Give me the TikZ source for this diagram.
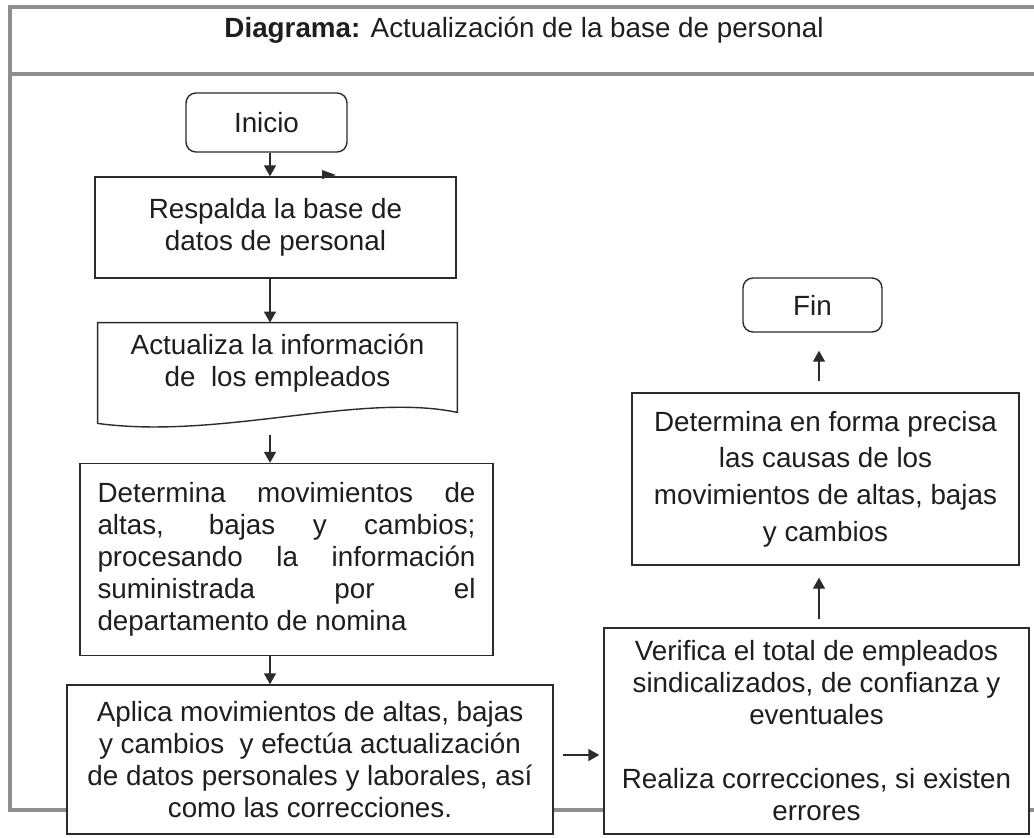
\documentclass[tikz,border=0pt]{standalone}
\usepackage{fontspec}
\setmainfont{Liberation Sans}
\usetikzlibrary{calc,arrows.meta,positioning}
\definecolor{linec}{HTML}{2B2B2B}
\definecolor{framec}{HTML}{8E8E8E}
\definecolor{txtc}{HTML}{1E1E1E}
\tikzset{
  ar/.style={-{Triangle[length=5.5pt,width=6pt]},line width=0.7pt,linec},
  box/.style={draw=linec,line width=0.7pt,fill=white,align=center,inner sep=0pt,text=txtc},
  term/.style={box,rounded corners=5pt},
  fr/.style={draw=framec,line width=1.6pt}
}

\begin{document}
\begin{tikzpicture}[x=0.5pt,y=-0.5pt,font=\fontsize{13.9}{16}\selectfont]
\useasboundingbox (0,0) rectangle (1034,837);
\clip (0,0) rectangle (1034,837);
% marco y titulo
\draw[fr] (10,7) rectangle (1050,810);
\draw[fr] (10,74) -- (1050,74);
\node[text=txtc] (tit) at (524,30) {\textbf{Diagrama:} Actualización de la base de personal};
\coordinate (axL) at (270,0);
\coordinate (axR) at (819,0);
% columna izquierda
\node[term,minimum width=80.5pt,minimum height=29.5pt] (ini) at (266.5,122.5) {Inicio};
\node[box,minimum width=180.5pt,minimum height=50.5pt] (resp) at (275.5,227.5) {Respalda la base de\\datos de personal};
\node[align=center,inner sep=0pt,text=txtc,minimum width=179.5pt,minimum height=40pt] (act) at (277.5,363) {Actualiza la información\\de\ \ los empleados};
\draw[linec,line width=0.7pt] (act.north west) -- (act.north east) -- ($(act.south east)+(0,9)$)
  .. controls (360,392) and (220,440) .. ($(act.south west)+(0,20)$) -- cycle;
\node[box,minimum width=206.5pt,minimum height=96pt,text width=189pt,align=justify] (det) at (286.5,559.5)
  {Determina movimientos de\linebreak altas, bajas y cambios;\linebreak procesando la información\linebreak suministrada por el\linebreak departamento de nomina};
\node[box,minimum width=243pt,minimum height=74.5pt] (apl) at (310,759.5)
  {Aplica movimientos de altas, bajas\\y cambios\ \ y efectúa actualización\\de datos personales y laborales, así\\como las correcciones.};
% columna derecha
\node[box,minimum width=212.5pt,minimum height=103pt] (ver) at (816.5,731)
  {Verifica el total de empleados\\sindicalizados, de confianza y\\eventuales\\[16pt]Realiza correcciones, si existen\\errores};
\node[box,minimum width=193.5pt,minimum height=86pt,font=\fontsize{13.9}{18.3}\selectfont] (dfp) at (825.5,479)
  {Determina en forma precisa\\las causas de los\\movimientos de altas, bajas\\y cambios};
\node[term,minimum width=69.5pt,minimum height=27pt] (fin) at (812.5,305) {Fin};
% flechas
\draw[ar] (ini.south -| axL) -- (resp.north -| axL);
\fill[linec] (322,170) -- (336,175) -- (322,179) -- cycle;
\draw[ar] (resp.south -| axL) -- (act.north -| axL);
\draw[ar] ($(act.south -| axL)+(0,32)$) -- (det.north -| axL);
\draw[ar] (det.south -| axL) -- (apl.north -| axL);
\draw[ar,shorten <=4.5pt,shorten >=2pt] ($(apl.east)+(0,-4.5)$) -- ($(apl.east -| ver.west)+(0,-4.5)$);
\draw[ar,shorten <=4pt,shorten >=6pt] (ver.north -| axR) -- (dfp.south -| axR);
\draw[ar,shorten <=5.5pt,shorten >=9pt] (dfp.north -| axR) -- (fin.south -| axR);
\end{tikzpicture}
\end{document}
